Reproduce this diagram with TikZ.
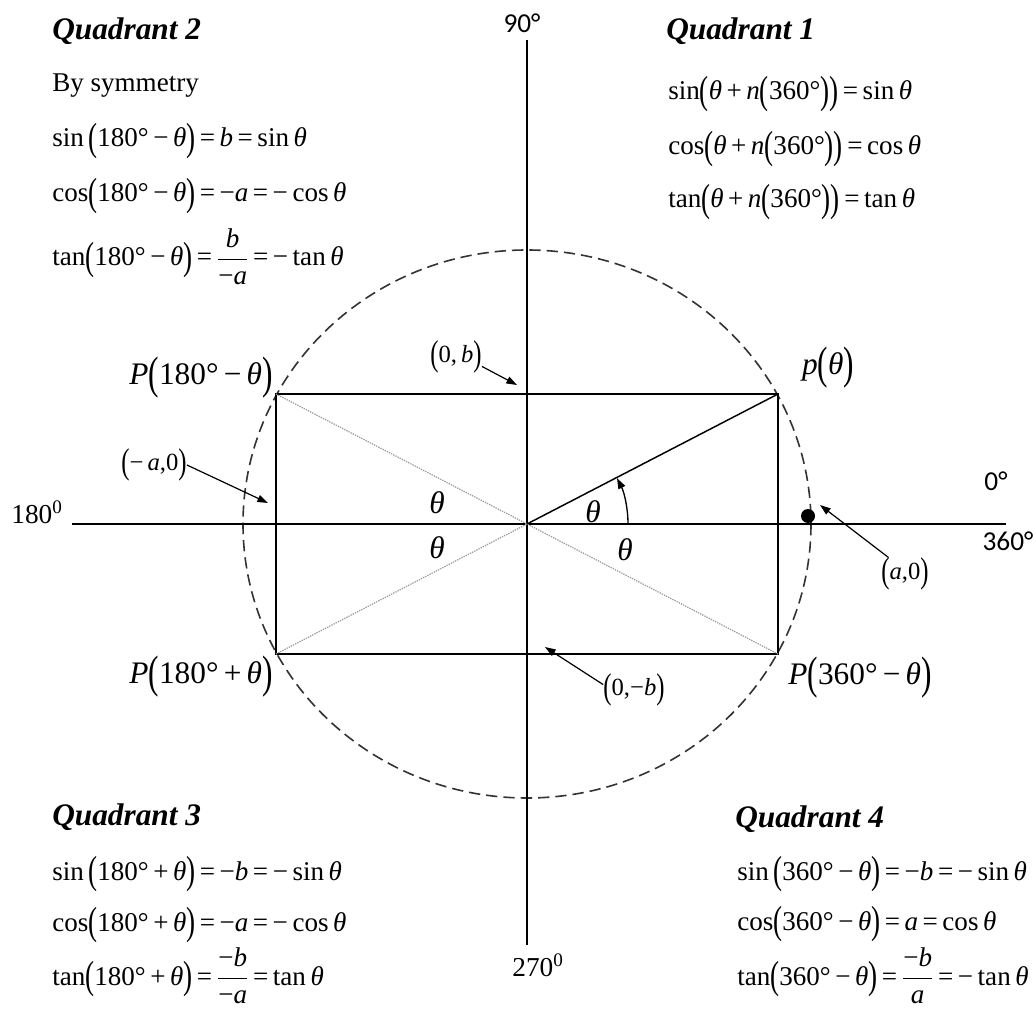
\documentclass[tikz,border=0pt]{standalone}
\usepackage{amsmath}
\usepackage{graphicx}
\usepackage{fontspec}
\setmainfont{Liberation Serif}
\newfontfamily\sansf{Carlito}
\usetikzlibrary{arrows.meta}
\newcommand\vt{\textit{θ}}
\newcommand\lp{\raisebox{-0.14em}{\scalebox{1}[1.45]{(}}}
\newcommand\rp{\raisebox{-0.14em}{\scalebox{1}[1.45]{)}}}
\newcommand\fr[2]{$\dfrac{\mbox{#1}}{\mbox{#2}}$}
\begin{document}
\begin{tikzpicture}[x=0.75pt,y=-0.75pt,
  axisline/.style={line width=1.1pt},
  rectline/.style={line width=1.1pt},
  circ/.style={line width=1.2pt, draw=black!80, dash pattern=on 8.5pt off 4.5pt},
  diag/.style={line width=0.9pt, draw=gray!80, dash pattern=on 1pt off 0.8pt},
  ptr/.style={line width=0.9pt, -{Triangle[length=8pt,width=5.5pt]}},
  body/.style={font=\fontsize{20.3}{24}\selectfont, inner sep=0pt, anchor=base west},
  head/.style={font=\fontsize{23.5}{28}\selectfont\bfseries\itshape, inner sep=0pt, anchor=base west},
  lbl/.style={font=\fontsize{23.5}{28}\selectfont, inner sep=0pt},
  crd/.style={font=\fontsize{18.5}{22}\selectfont, inner sep=0pt},
  deg/.style={font=\fontsize{20.5}{24}\selectfont, inner sep=0pt}]
\useasboundingbox (0,0) rectangle (1033,1012);

% geometry
\coordinate (O) at (527,524);
\coordinate (xl) at (72,524);
\coordinate (xr) at (1006,524);
\coordinate (yt) at (527,40);
\coordinate (yb) at (527,945);
\coordinate (A) at (778,394);
\coordinate (B) at (276,394);
\coordinate (C) at (276,654);
\coordinate (D) at (778,654);

\draw[circ] (O) ellipse [x radius=284, y radius=274];
\draw[axisline] (xl) -- (xr);
\draw[axisline] (yt) -- (yb);
\draw[rectline] (A) -- (B) -- (C) -- (D) -- cycle;
\draw[diag] (B) -- (D);
\draw[diag] (C) -- (O);
\draw[line width=1.1pt] (O) -- (A);
\draw[line width=1pt, -{Triangle[length=8pt,width=5.5pt]}] ([shift={(101,0)}]O) arc[start angle=0, end angle=-27, radius=101];
\node[circle, fill=black, inner sep=0pt, minimum size=10.5pt] (dot) at (808,516) {};

% degree labels
\node[deg] (d90) at (522,23) {\sansf 90°};
\node[deg] (d270) at (538,965) {270\textsuperscript{0}};
\node[deg] (d180) at (37,512) {180\textsuperscript{0}};
\node[deg] (d0) at (996,481) {\sansf 0°};
\node[deg] (d360) at (1008,541) {\sansf 360°};

% point labels
\node[lbl] (P1) at (828,368) {\textit{p}\lp\vt\rp};
\node[lbl] (P2) at (201,378) {\textit{P}\lp180°\,−\,\vt\rp};
\node[lbl] (P3) at (201,677) {\textit{P}\lp180°\,+\,\vt\rp};
\node[lbl] (P4) at (860,678) {\textit{P}\lp360°\,−\,\vt\rp};

% theta labels
\node[lbl] (t1) at (593,512) {\vt};
\node[lbl] (t2) at (437,503) {\vt};
\node[lbl] (t3) at (437,548) {\vt};
\node[lbl] (t4) at (625,550) {\vt};

% coordinate labels with pointers
\node[crd] (ma) at (154,465) {\lp−\,\textit{a},0\rp};
\coordinate (mat) at (268,503);
\draw[ptr] (ma.east) -- (mat);
\node[crd] (pb) at (456,357) {\lp0,\,\textit{b}\rp};
\coordinate (pbt) at (517,385);
\draw[ptr] (pb.-20) -- (pbt);
\node[crd] (nb) at (634,690) {\lp0,−\textit{b}\rp};
\coordinate (nbt) at (545,647);
\draw[ptr] (nb.170) -- (nbt);
\node[crd] (pa) at (905,574) {\lp\textit{a},0\rp};
\coordinate (pat) at (820,505);
\draw[ptr] (pa.135) -- (pat);

% Quadrant 2
\node[head] (q2h) at (52,40) {Quadrant 2};
\node[body] (q2s) at (52,92) {By symmetry};
\node[body] (q2a) at (52,147) {sin\,\lp180°\,−\,\vt\rp\,=\,\textit{b}\,=\,sin\,\vt};
\node[body] (q2b) at (52,202) {cos\lp180°\,−\,\vt\rp\,=\,−\textit{a}\,=\,−\,cos\,\vt};
\node[body] (q2c) at (52,266) {tan\lp180°\,−\,\vt\rp\,=\,\fr{\textit{b}}{−\textit{a}}\,=\,−\,tan\,\vt};

% Quadrant 1
\node[head] (q1h) at (666,40) {Quadrant 1};
\node[body] (q1a) at (668,100) {sin\lp\vt\,+\,\textit{n}\lp360°\rp\rp\,=\,sin\,\vt};
\node[body] (q1b) at (668,155) {cos\lp\vt\,+\,\textit{n}\lp360°\rp\rp\,=\,cos\,\vt};
\node[body] (q1c) at (668,208) {tan\lp\vt\,+\,\textit{n}\lp360°\rp\rp\,=\,tan\,\vt};

% Quadrant 3
\node[head] (q3h) at (52,825) {Quadrant 3};
\node[body] (q3a) at (52,880) {sin\,\lp180°\,+\,\vt\rp\,=\,−\textit{b}\,=\,−\,sin\,\vt};
\node[body] (q3b) at (52,931) {cos\lp180°\,+\,\vt\rp\,=\,−\textit{a}\,=\,−\,cos\,\vt};
\node[body] (q3c) at (52,985) {tan\lp180°\,+\,\vt\rp\,=\,\fr{−\textit{b}}{−\textit{a}}\,=\,tan\,\vt};

% Quadrant 4
\node[head] (q4h) at (735,827) {Quadrant 4};
\node[body] (q4a) at (737,880) {sin\,\lp360°\,−\,\vt\rp\,=\,−\textit{b}\,=\,−\,sin\,\vt};
\node[body] (q4b) at (737,930) {cos\lp360°\,−\,\vt\rp\,=\,\textit{a}\,=\,cos\,\vt};
\node[body] (q4c) at (737,985) {tan\lp360°\,−\,\vt\rp\,=\,\fr{−\textit{b}}{\textit{a}}\,=\,−\,tan\,\vt};
\end{tikzpicture}
\end{document}
